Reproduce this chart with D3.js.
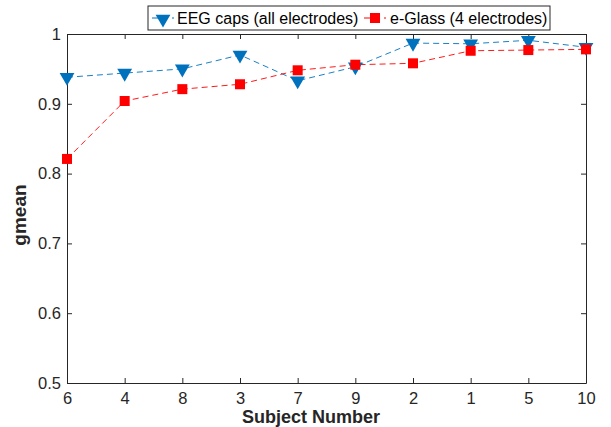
<!DOCTYPE html>
<html>
<head>
<meta charset="utf-8">
<script src="https://cdn.jsdelivr.net/npm/d3@7"></script>
<style>
  body { margin: 0; background: #fff; }
  svg { font-family: "Liberation Sans", Arial, sans-serif; }
</style>
</head>
<body>
<div class="chart"></div>
<script>
const width = 611;
const height = 427;

const subjects = ['6', '4', '8', '3', '7', '9', '2', '1', '5', '10'];
const eegCaps = [0.938, 0.944, 0.950, 0.970, 0.933, 0.953, 0.987, 0.986, 0.991, 0.981];
const eGlass = [0.821, 0.904, 0.921, 0.928, 0.948, 0.956, 0.958, 0.976, 0.977, 0.978];
const yTicks = [0.5, 0.6, 0.7, 0.8, 0.9, 1];

const margin = { left: 67, right: 25, top: 34, bottom: 44 };
const innerW = width - margin.left - margin.right;
const innerH = height - margin.top - margin.bottom;

const svg = d3.select('.chart').append('svg')
  .attr('width', width)
  .attr('height', height);

const g = svg.append('g').attr('transform', `translate(${margin.left},${margin.top})`);

const x = d3.scalePoint().domain(subjects).range([0, innerW]);
const y = d3.scaleLinear().domain([0.5, 1]).range([innerH, 0]);

// axes (matlab style: ticks inside, box on)
const axisColor = '#262626';
const xAxis = g.append('g').attr('transform', `translate(0,${innerH})`)
  .call(d3.axisBottom(x).tickSizeInner(-5).tickSizeOuter(0).tickPadding(9));
const yAxis = g.append('g')
  .call(d3.axisLeft(y).tickValues(yTicks).tickFormat(d3.format('')).tickSizeInner(-5).tickSizeOuter(0).tickPadding(6));
g.append('g')
  .call(d3.axisTop(x).tickSizeInner(-5).tickSizeOuter(0).tickFormat(''));
g.append('g').attr('transform', `translate(${innerW},0)`)
  .call(d3.axisRight(y).tickValues(yTicks).tickSizeInner(-5).tickSizeOuter(0).tickFormat(''));

g.selectAll('.domain').attr('stroke', axisColor).attr('stroke-width', 1);
g.selectAll('.tick line').attr('stroke', axisColor);
g.selectAll('.tick text').attr('fill', axisColor).style('font-size', '16.5px');

const line = (vals) => d3.line()
  .x((d, i) => x(subjects[i]))
  .y((d) => y(d))(vals);

const blue = '#0072BD';
const red = '#FF0000';

g.append('path').attr('d', line(eegCaps))
  .attr('fill', 'none').attr('stroke', blue).attr('stroke-width', 0.9)
  .attr('stroke-dasharray', '6,4');
g.append('path').attr('d', line(eGlass))
  .attr('fill', 'none').attr('stroke', red).attr('stroke-width', 0.9)
  .attr('stroke-dasharray', '6,4');

const tri = d3.symbol().type(d3.symbolTriangle).size(95);
g.selectAll('.eeg').data(eegCaps).enter().append('path')
  .attr('d', tri)
  .attr('transform', (d, i) => `translate(${x(subjects[i])},${y(d)}) rotate(180)`)
  .attr('fill', blue);

g.selectAll('.eglass').data(eGlass).enter().append('rect')
  .attr('x', (d, i) => x(subjects[i]) - 5)
  .attr('y', (d) => y(d) - 5)
  .attr('width', 10).attr('height', 10)
  .attr('fill', red);

// axis labels
svg.append('text')
  .attr('x', 311).attr('y', 423)
  .attr('text-anchor', 'middle')
  .style('font-size', '18px').style('font-weight', 'bold').attr('fill', axisColor)
  .text('Subject Number');
svg.append('text')
  .attr('transform', 'translate(26,215) rotate(-90)')
  .attr('text-anchor', 'middle')
  .style('font-size', '19px').style('font-weight', 'bold').attr('fill', axisColor)
  .text('gmean');

// legend
const legend = svg.append('g');
legend.append('rect')
  .attr('x', 148).attr('y', 6).attr('width', 402).attr('height', 24)
  .attr('fill', '#fff').attr('stroke', axisColor).attr('stroke-width', 1);
legend.append('line').attr('x1', 152).attr('x2', 174).attr('y1', 18).attr('y2', 18)
  .attr('stroke', blue).attr('stroke-dasharray', '6,4');
legend.append('path').attr('d', tri)
  .attr('transform', 'translate(163,19) rotate(180)').attr('fill', blue);
legend.append('text').attr('x', 177).attr('y', 24)
  .style('font-size', '16px').attr('fill', '#000').text('EEG caps (all electrodes)');
legend.append('line').attr('x1', 364).attr('x2', 386).attr('y1', 18).attr('y2', 18)
  .attr('stroke', red).attr('stroke-dasharray', '6,4');
legend.append('rect').attr('x', 370).attr('y', 13).attr('width', 10).attr('height', 10)
  .attr('fill', red);
legend.append('text').attr('x', 390).attr('y', 24)
  .style('font-size', '16px').attr('fill', '#000').text('e-Glass (4 electrodes)');
</script>
</body>
</html>
